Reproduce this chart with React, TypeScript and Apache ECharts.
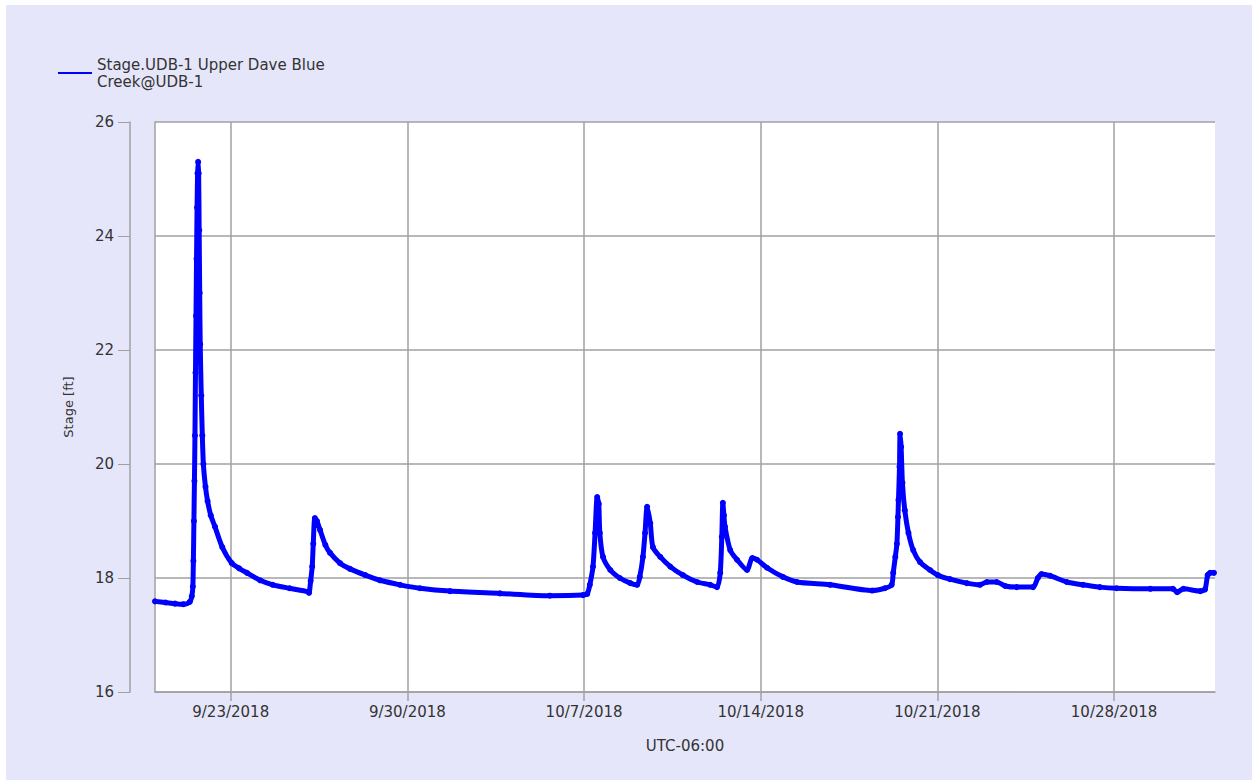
import React, { useEffect, useRef } from "react";
import * as echarts from "echarts";

const seriesName = "Stage.UDB-1 Upper Dave Blue Creek@UDB-1";
const legendLabel = "Stage.UDB-1 Upper Dave Blue\nCreek@UDB-1";
const xAxisName = "UTC-06:00";
const yAxisName = "Stage [ft]";

const xStart = "2018-09-20 00:00";
const xEnd = "2018-11-01 00:00";
const tickDates = ["2018-09-23 00:00", "2018-09-30 00:00", "2018-10-07 00:00", "2018-10-14 00:00", "2018-10-21 00:00", "2018-10-28 00:00"];
const yMin = 16;
const yMax = 26;
const yStep = 2;

const times = [
  "2018-09-20 00:00", "2018-09-20 10:00", "2018-09-20 19:00", "2018-09-21 03:00", "2018-09-21 09:00",
  "2018-09-21 11:00", "2018-09-21 12:00", "2018-09-21 12:30", "2018-09-21 13:00", "2018-09-21 13:30",
  "2018-09-21 14:00", "2018-09-21 14:30", "2018-09-21 15:00", "2018-09-21 15:30", "2018-09-21 16:00",
  "2018-09-21 16:30", "2018-09-21 17:00", "2018-09-21 17:30", "2018-09-21 18:00", "2018-09-21 18:30",
  "2018-09-21 19:00", "2018-09-21 20:00", "2018-09-21 21:00", "2018-09-21 22:00", "2018-09-22 00:00",
  "2018-09-22 02:00", "2018-09-22 05:00", "2018-09-22 09:00", "2018-09-22 16:00", "2018-09-23 01:00",
  "2018-09-23 08:00", "2018-09-23 15:30", "2018-09-24 04:00", "2018-09-24 16:00", "2018-09-25 08:00",
  "2018-09-26 01:30",
  "2018-09-26 02:30", "2018-09-26 04:00", "2018-09-26 05:30", "2018-09-26 06:30", "2018-09-26 08:00",
  "2018-09-26 10:00", "2018-09-26 13:00", "2018-09-26 18:00", "2018-09-26 22:30", "2018-09-27 08:00",
  "2018-09-27 17:30", "2018-09-28 08:00", "2018-09-28 22:00", "2018-09-29 17:00", "2018-09-30 12:00",
  "2018-10-01 16:30", "2018-10-03 16:00", "2018-10-05 15:30", "2018-10-06 23:00",
  "2018-10-07 03:00", "2018-10-07 05:30", "2018-10-07 08:30", "2018-10-07 10:30", "2018-10-07 12:30",
  "2018-10-07 14:00", "2018-10-07 15:00", "2018-10-07 18:00", "2018-10-08 01:00", "2018-10-08 10:00",
  "2018-10-08 20:00", "2018-10-09 02:30", "2018-10-09 05:00", "2018-10-09 08:00", "2018-10-09 10:00",
  "2018-10-09 12:00", "2018-10-09 15:00", "2018-10-09 17:30", "2018-10-10 00:30", "2018-10-10 10:00",
  "2018-10-10 22:00", "2018-10-11 11:30", "2018-10-12 00:00", "2018-10-12 06:30", "2018-10-12 09:30",
  "2018-10-12 11:00", "2018-10-12 12:00", "2018-10-12 13:00", "2018-10-12 14:00", "2018-10-12 19:00",
  "2018-10-13 01:30", "2018-10-13 11:00", "2018-10-13 16:00", "2018-10-13 20:30", "2018-10-14 06:00",
  "2018-10-14 21:00", "2018-10-15 10:30", "2018-10-16 18:00", "2018-10-18 10:00", "2018-10-18 22:00",
  "2018-10-19 04:30", "2018-10-19 06:00", "2018-10-19 08:00", "2018-10-19 09:30", "2018-10-19 10:30",
  "2018-10-19 11:00", "2018-10-19 12:00", "2018-10-19 12:30", "2018-10-19 13:30", "2018-10-19 14:45",
  "2018-10-19 17:00", "2018-10-19 20:30", "2018-10-20 01:00", "2018-10-20 07:30", "2018-10-20 17:00",
  "2018-10-21 00:30", "2018-10-21 12:00", "2018-10-22 04:00", "2018-10-22 16:30", "2018-10-22 23:00",
  "2018-10-23 08:30", "2018-10-23 16:30", "2018-10-24 03:30", "2018-10-24 19:00", "2018-10-24 23:30",
  "2018-10-25 03:00", "2018-10-25 11:00", "2018-10-26 03:00", "2018-10-26 18:30", "2018-10-27 10:30",
  "2018-10-28 02:30", "2018-10-29 10:30", "2018-10-30 08:00", "2018-10-30 12:00", "2018-10-30 18:00",
  "2018-10-31 10:00", "2018-10-31 14:30", "2018-10-31 17:00", "2018-10-31 19:30", "2018-10-31 23:00",
];

const stage = [
  17.59, 17.57, 17.55, 17.54, 17.58,
  17.68, 17.85, 18.3, 19.0, 19.7,
  20.5, 21.6, 22.6, 23.6, 24.5,
  25.1, 25.3, 25.1, 24.1, 23.0,
  22.1, 21.2, 20.5, 20.0, 19.6,
  19.35, 19.1, 18.9, 18.54, 18.26,
  18.17, 18.09, 17.96, 17.88, 17.82,
  17.76,
  17.74, 17.95, 18.2, 18.6, 19.05,
  19.0, 18.84, 18.58, 18.44, 18.26,
  18.16, 18.05, 17.96, 17.88, 17.82,
  17.77, 17.73, 17.69, 17.7,
  17.72, 17.88, 18.2, 18.79, 19.42,
  19.3, 18.79, 18.37, 18.14, 18.0,
  17.91, 17.88, 18.02, 18.37, 18.79,
  19.25, 18.96, 18.54, 18.37, 18.2,
  18.05, 17.93, 17.88, 17.84, 18.09,
  18.72, 19.32, 19.1, 18.9, 18.49,
  18.32, 18.14, 18.35, 18.32, 18.18,
  18.02, 17.93, 17.88, 17.78, 17.82,
  17.88, 18.09, 18.37, 18.6, 19.07,
  19.37, 19.95, 20.53, 20.3, 19.67,
  19.19, 18.79, 18.49, 18.28, 18.14,
  18.05, 17.98, 17.91, 17.88, 17.93,
  17.93, 17.86, 17.84, 17.84, 18.0,
  18.07, 18.04, 17.93, 17.88, 17.84,
  17.82, 17.81, 17.81, 17.75, 17.81,
  17.77, 17.8, 18.05, 18.09, 18.09,
];

function parseT(s: string): number {
  const [d, t] = s.split(" ");
  const [Y, M, D] = d.split("-").map(Number);
  const [h, m] = t.split(":").map(Number);
  return new Date(Y, M - 1, D, h, m).getTime();
}

const FONT = "'DejaVu Sans', Verdana, sans-serif";
const TEXT = "#333333";
const GRID_GRAY = "#a0a0a0";

export default function App() {
  const ref = useRef<HTMLDivElement>(null);
  useEffect(() => {
    if (!ref.current) return;
    const chart = echarts.init(ref.current, undefined, { renderer: "svg" });
    const data = times.map((t, i) => [parseT(t), stage[i]]);
    const ticks = tickDates.map(parseT);
    chart.setOption({
      animation: false,
      backgroundColor: "#E6E6FA",
      textStyle: { fontFamily: FONT },
      legend: {
        left: 47,
        top: 46,
        icon: "rect",
        itemWidth: 34,
        itemHeight: 2,
        formatter: () => legendLabel,
        textStyle: { color: TEXT, fontSize: 15, lineHeight: 17, fontFamily: FONT },
        data: [seriesName],
      },
      grid: {
        left: 149,
        right: 37,
        top: 117,
        bottom: 88,
        show: true,
        backgroundColor: "#ffffff",
        borderWidth: 0,
      },
      xAxis: {
        type: "value",
        min: parseT(xStart),
        max: parseT(xEnd),
        name: xAxisName,
        nameLocation: "middle",
        nameGap: 46,
        nameTextStyle: { color: TEXT, fontSize: 15, fontFamily: FONT },
        axisLine: { show: true, lineStyle: { color: GRID_GRAY, width: 1.5 } },
        axisTick: {
          show: true,
          inside: false,
          customValues: ticks,
          length: 9,
          lineStyle: { color: GRID_GRAY, width: 1.5 },
        },
        axisLabel: {
          customValues: ticks,
          color: TEXT,
          fontSize: 15,
          fontFamily: FONT,
          margin: 12,
          hideOverlap: false,
          formatter: (v: number) => {
            const d = new Date(v);
            return `${d.getMonth() + 1}/${d.getDate()}/${d.getFullYear()}`;
          },
        },
        splitLine: { show: true, lineStyle: { color: GRID_GRAY, width: 1.5 } },
      },
      yAxis: [
        {
          type: "value",
          min: yMin,
          max: yMax,
          interval: yStep,
          position: "left",
          offset: 25,
          name: yAxisName,
          nameLocation: "middle",
          nameGap: 55,
          nameTextStyle: { color: TEXT, fontSize: 13, fontFamily: FONT },
          axisLine: { show: true, lineStyle: { color: GRID_GRAY, width: 1.5 } },
          axisTick: { show: true, inside: false, length: 12, lineStyle: { color: GRID_GRAY } },
          axisLabel: { color: TEXT, fontSize: 15, fontFamily: FONT, margin: 16 },
          splitLine: { show: true, lineStyle: { color: GRID_GRAY, width: 1.5 } },
        },
        {
          type: "value",
          min: yMin,
          max: yMax,
          interval: yStep,
          position: "left",
          offset: 0,
          axisLine: { show: true, lineStyle: { color: GRID_GRAY, width: 1.5 } },
          axisTick: { show: false },
          axisLabel: { show: false },
          splitLine: { show: false },
        },
      ],
      series: [
        {
          name: seriesName,
          type: "line",
          yAxisIndex: 0,
          data,
          color: "#0000ff",
          smooth: 0.25,
          showSymbol: true,
          symbol: "circle",
          symbolSize: 6,
          lineStyle: { width: 5, color: "#0000ff", join: "round", cap: "round" },
          itemStyle: { color: "#0000ff" },
        },
      ],
    });
    return () => chart.dispose();
  }, []);
  return (
    <div
      ref={ref}
      style={{ position: "absolute", left: 6, top: 5, width: 1246, height: 775 }}
    />
  );
}
